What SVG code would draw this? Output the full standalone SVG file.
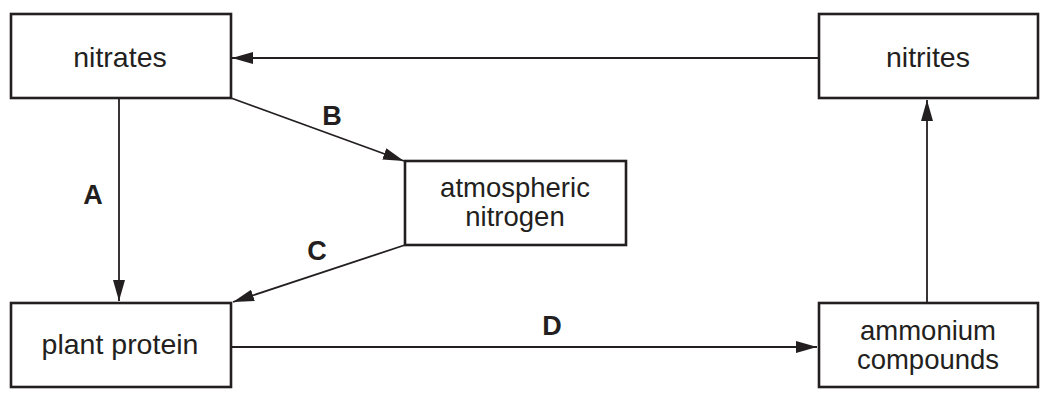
<svg xmlns="http://www.w3.org/2000/svg" width="1043" height="394" viewBox="0 0 1043 394">
<style>
.box{fill:#fff;stroke:#231f20;stroke-width:2.6}
.t{font-family:"Liberation Sans",Arial,sans-serif;font-size:28.5px;fill:#231f20;text-anchor:middle}
.t2{font-size:27.5px}
.l{font-family:"Liberation Sans",Arial,sans-serif;font-size:27px;font-weight:bold;fill:#231f20;text-anchor:middle}
.c{stroke:#231f20;stroke-width:1.8;fill:none;marker-end:url(#ah)}
</style>
<defs>
<marker id="ah" markerUnits="userSpaceOnUse" markerWidth="22" markerHeight="12" refX="21" refY="6" orient="auto">
<path d="M0,0 L21,6 L0,12 z" fill="#231f20"/>
</marker>
</defs>
<rect width="1043" height="394" fill="#fff"/>
<g id="connectors">
<line class="c" x1="819" y1="58" x2="232" y2="58"/>
<line class="c" x1="119" y1="98" x2="119" y2="301"/>
<line class="c" x1="231" y1="98" x2="404" y2="161"/>
<line class="c" x1="405" y1="245" x2="233" y2="302"/>
<line class="c" x1="231" y1="347" x2="817" y2="347"/>
<line class="c" x1="927" y1="303" x2="927" y2="100"/>
<text class="l" x="93" y="204">A</text>
<text class="l" x="332" y="125">B</text>
<text class="l" x="317" y="260">C</text>
<text class="l" x="552" y="335">D</text>
</g>
<g id="nitrates">
<rect class="box" x="11" y="14" width="220" height="84"/>
<text class="t" x="120" y="67">nitrates</text>
</g>
<g id="nitrites">
<rect class="box" x="819" y="14" width="219" height="84"/>
<text class="t" x="928" y="67">nitrites</text>
</g>
<g id="atmospheric-nitrogen">
<rect class="box" x="405" y="161" width="221" height="84"/>
<text class="t t2" x="515" y="197">atmospheric</text>
<text class="t t2" x="515" y="226">nitrogen</text>
</g>
<g id="plant-protein">
<rect class="box" x="11" y="303" width="220" height="84"/>
<text class="t" x="120" y="354">plant protein</text>
</g>
<g id="ammonium-compounds">
<rect class="box" x="819" y="303" width="219" height="84"/>
<text class="t t2" x="928" y="340">ammonium</text>
<text class="t t2" x="928" y="369">compounds</text>
</g>
</svg>
